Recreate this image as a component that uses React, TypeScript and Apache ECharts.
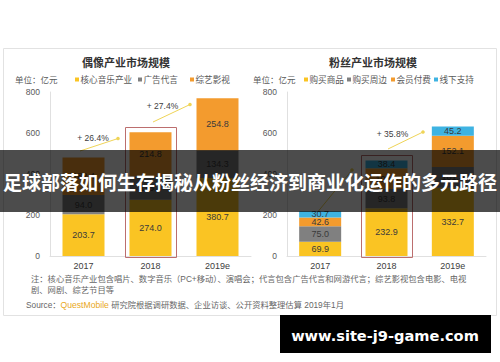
import React, { useEffect, useRef } from "react";
import * as echarts from "echarts";

const categories = ["2017", "2018", "2019e"];

const idolNames = ["核心音乐产业", "广告代言", "综艺影视"];
const idolMusic = [203.7, 274.0, 380.7];
const idolAds = [94.0, 115.4, 134.3];
const idolShows = [182.4, 214.8, 254.8];

const fanNames = ["购买商品", "购买周边", "会员付费", "线下支持"];
const fanGoods = [69.9, 232.9, 332.7];
const fanMerch = [75.0, 93.8, 101.3];
const fanMember = [42.6, 100.9, 152.1];
const fanOffline = [30.7, 38.4, 45.2];

const yMin = 0;
const yMax = 800;
const yInterval = 200;

const idolGrowth = ["+ 26.4%", "+ 27.4%"];
const fanGrowth = ["+ 35.8%"];

const titleLeft = "偶像产业市场规模";
const titleRight = "粉丝产业市场规模";
const unitText = "单位：亿元";
const noteLine1 = "注：核心音乐产业包含唱片、数字音乐（PC+移动）、演唱会；代言包含广告代言和网游代言；综艺影视包含电影、电视";
const noteLine2 = "剧、网剧、综艺节目等";
const bannerText = "足球部落如何生存揭秘从粉丝经济到商业化运作的多元路径";
const siteText = "www.site-j9-game.com";

const YELLOW = "#FAC423";
const GRAY = "#808080";
const ORANGE = "#F39B2E";
const BLUE = "#3EB3E2";
const ARROW = "#EFD457";
const FONT = "'Liberation Sans','Noto Sans CJK SC',sans-serif";

export default function App() {
  const ref = useRef<HTMLDivElement>(null);
  useEffect(() => {
    if (!ref.current) return;
    const chart = echarts.init(ref.current, undefined, { renderer: "svg" });

    const label = {
      show: true,
      position: "inside",
      fontSize: 9,
      color: "#3a3a3a",
      fontFamily: FONT,
      formatter: (p: any) => Number(p.value).toFixed(1),
    };
    const mkSeries = (name: string, data: number[], color: string, idx: number, stack: string) => ({
      type: "bar",
      name,
      data,
      stack,
      xAxisIndex: idx,
      yAxisIndex: idx,
      barWidth: 42,
      itemStyle: { color },
      label,
    });

    const xAxisBase = {
      type: "category",
      data: categories,
      axisLine: { show: true, lineStyle: { color: "#e0e0e0" } },
      axisTick: { show: false },
      axisLabel: { color: "#404040", fontSize: 9, margin: 5, fontFamily: FONT },
    };
    const yAxisBase = {
      type: "value",
      min: yMin,
      max: yMax,
      interval: yInterval,
      axisLine: { show: true, lineStyle: { color: "#e0e0e0" } },
      axisTick: { show: false },
      splitLine: { show: false },
      axisLabel: { color: "#595959", fontSize: 8.5, margin: 10, fontFamily: FONT },
    };

    const legendGraphic = (names: string[], colors: string[], xs: number[]) => {
      const els: any[] = [];
      names.forEach((n, i) => {
        els.push({ type: "rect", shape: { x: xs[i], y: 77.5, width: 4, height: 4 }, style: { fill: colors[i] } });
        els.push({
          type: "text",
          x: xs[i] + 5.5,
          y: 79.5,
          style: { text: n, fontSize: 8.6, fill: "#595959", fontFamily: FONT, textVerticalAlign: "middle" },
        });
      });
      return els;
    };

    const arrow = (x1: number, y1: number, x2: number, y2: number) => [
      { type: "line", shape: { x1, y1, x2, y2 }, style: { stroke: ARROW, lineWidth: 1 } },
      { type: "circle", shape: { cx: x2, cy: y2, r: 1.8 }, style: { fill: ARROW } },
    ];
    const growthText = (t: string, x: number, y: number) => ({
      type: "text",
      x,
      y,
      style: { text: t, fontSize: 8.5, fill: "#404040", fontFamily: FONT, textAlign: "center", textVerticalAlign: "middle" },
    });

    const baseGraphic: any[] = [
      { type: "rect", shape: { x: 3.5, y: 48.5, width: 493, height: 267 }, style: { fill: "none", stroke: "#e2e2e2", lineWidth: 1 } },
      { type: "text", x: 15, y: 79.5, style: { text: unitText, fontSize: 8.5, fill: "#595959", fontFamily: FONT, textVerticalAlign: "middle" } },
      { type: "text", x: 253, y: 79.5, style: { text: unitText, fontSize: 8.5, fill: "#595959", fontFamily: FONT, textVerticalAlign: "middle" } },
      ...legendGraphic(idolNames, [YELLOW, GRAY, ORANGE], [75, 138, 190]),
      ...legendGraphic(fanNames, [YELLOW, GRAY, ORANGE, BLUE], [304, 347, 391, 434]),
      ...arrow(80, 151, 118, 138.5),
      growthText(idolGrowth[0], 93, 137.5),
      ...arrow(153, 122, 190, 104.5),
      growthText(idolGrowth[1], 162.5, 106),
      ...arrow(316, 214, 352, 170),
      ...arrow(388, 149, 423, 132),
      growthText(fanGrowth[0], 392.5, 134),
      { type: "text", x: 31, y: 279, style: { text: noteLine1, fontSize: 8.3, fill: "#666", fontFamily: FONT, textVerticalAlign: "middle" } },
      { type: "text", x: 31, y: 289.5, style: { text: noteLine2, fontSize: 8.3, fill: "#666", fontFamily: FONT, textVerticalAlign: "middle" } },
      {
        type: "text",
        x: 26,
        y: 305,
        style: {
          text: "Source：{q|QuestMobile} 研究院根据调研数据、企业访谈、公开资料整理估算 2019年1月",
          fontSize: 8.3,
          fill: "#666",
          fontFamily: FONT,
          textVerticalAlign: "middle",
          rich: { q: { fontSize: 8.6, fill: "#E9A81C", fontFamily: FONT } },
        },
      },
    ];

    const option: any = {
      animation: false,
      backgroundColor: "#ffffff",
      textStyle: { fontFamily: FONT },
      title: [
        { text: titleLeft, left: 82, top: 57, padding: 0, textStyle: { fontSize: 11, fontWeight: "bold", color: "#333", fontFamily: FONT } },
        { text: titleRight, left: 329, top: 57, padding: 0, textStyle: { fontSize: 11, fontWeight: "bold", color: "#333", fontFamily: FONT } },
      ],
      grid: [
        { left: 50, top: 92, width: 201, height: 164 },
        { left: 287, top: 92, width: 199, height: 164 },
      ],
      xAxis: [{ ...xAxisBase, gridIndex: 0 }, { ...xAxisBase, gridIndex: 1 }],
      yAxis: [{ ...yAxisBase, gridIndex: 0 }, { ...yAxisBase, gridIndex: 1 }],
      series: [
        mkSeries(idolNames[0], idolMusic, YELLOW, 0, "idol"),
        mkSeries(idolNames[1], idolAds, GRAY, 0, "idol"),
        mkSeries(idolNames[2], idolShows, ORANGE, 0, "idol"),
        mkSeries(fanNames[0], fanGoods, YELLOW, 1, "fan"),
        mkSeries(fanNames[1], fanMerch, GRAY, 1, "fan"),
        mkSeries(fanNames[2], fanMember, ORANGE, 1, "fan"),
        mkSeries(fanNames[3], fanOffline, BLUE, 1, "fan"),
      ],
      graphic: { elements: baseGraphic },
    };
    chart.setOption(option);

    // highlight boxes around the 2018 bars, computed from the axes
    const hi = 1;
    const idolTotal = idolMusic[hi] + idolAds[hi] + idolShows[hi];
    const fanTotal = fanGoods[hi] + fanMerch[hi] + fanMember[hi] + fanOffline[hi];
    const box = (gridIndex: number, total: number) => {
      const top = chart.convertToPixel({ gridIndex } as any, [categories[hi], total]) as number[];
      const bottom = chart.convertToPixel({ gridIndex } as any, [categories[hi], 0]) as number[];
      return {
        type: "rect",
        z: 5,
        shape: { x: Math.round(top[0]) - 25.5, y: Math.round(top[1] - 5.5) + 0.5, width: 51, height: Math.round(bottom[1] - top[1] + 6.5) },
        style: { fill: "none", stroke: "#BC6E6E", lineWidth: 1 },
      };
    };

    const overlay: any[] = [
      box(0, idolTotal),
      box(1, fanTotal),
      { type: "rect", z: 100, shape: { x: 0, y: 150, width: 500, height: 62 }, style: { fill: "rgba(0,0,0,0.7)" } },
      {
        type: "text",
        z: 101,
        x: 250,
        y: 181.5,
        style: { text: bannerText, fontSize: 19, fontWeight: "bold", fill: "#ffffff", fontFamily: "'Noto Sans CJK SC',sans-serif", textAlign: "center", textVerticalAlign: "middle" },
      },
      { type: "rect", z: 100, shape: { x: 280, y: 315, width: 211, height: 38 }, style: { fill: "#000000" } },
      {
        type: "text",
        z: 101,
        x: 385,
        y: 335,
        style: { text: siteText, fontSize: 14.6, fontWeight: "bold", fill: "#ffffff", fontFamily: "'DejaVu Sans',sans-serif", textAlign: "center", textVerticalAlign: "middle" },
      },
    ];
    chart.setOption({ graphic: { elements: [...baseGraphic, ...overlay] } }, { replaceMerge: ["graphic"] });

    return () => chart.dispose();
  }, []);
  return <div ref={ref} style={{ position: "fixed", left: 0, top: 0, width: 500, height: 362 }} />;
}
